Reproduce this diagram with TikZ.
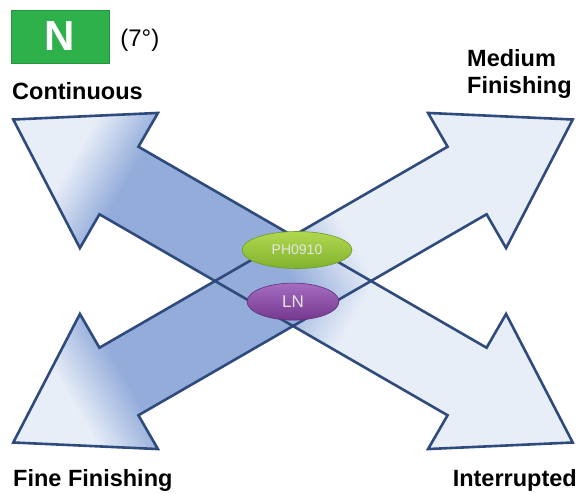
\documentclass[tikz,border=0pt]{standalone}
\usepackage{fontspec}
\newfontfamily\labelfont{Liberation Sans}
\usetikzlibrary{positioning, shapes.geometric}

\definecolor{arrdark}{HTML}{93ACDA}
\definecolor{arrlite}{HTML}{E8EEF8}
\definecolor{arrline}{HTML}{2F4A7C}
\definecolor{ngreen}{HTML}{2EB04B}
\definecolor{ngreenedge}{HTML}{24963D}
\definecolor{limetop}{HTML}{B2D850}
\definecolor{limebot}{HTML}{80B22E}
\definecolor{limeedge}{HTML}{6E9A28}
\definecolor{plumtop}{HTML}{A56CC0}
\definecolor{plumbot}{HTML}{74398F}
\definecolor{plumedge}{HTML}{60307A}

% light at the head, dark along the first half of the shaft, light again
% (the path is fitted to the 25bp--75bp part)
\pgfdeclarehorizontalshading{crossshade}{100bp}{color(0bp)=(arrlite); color(30.5bp)=(arrlite);
  color(35bp)=(arrdark); color(50bp)=(arrdark); color(55.5bp)=(arrlite); color(100bp)=(arrlite)}

% double arrow, drawn along the x axis around the origin
\newcommand{\crossarrow}{(-323,0) -- (-201,78) -- (-201,39) -- (201,39) -- (201,78) -- (323,0)
  -- (201,-78) -- (201,-39) -- (-201,-39) -- (-201,-78) -- cycle}

\begin{document}
\begin{tikzpicture}[x=1pt, y=1pt,
    every node/.style={inner sep=0pt},
    arrowbody/.style={shading=crossshade},
    arrowedge/.style={draw=arrline, line width=2.6pt, line join=miter},
    label/.style={font=\labelfont\bfseries\fontsize{23.5}{27}\selectfont, align=left},
    pill/.style={ellipse, minimum height=37pt, text=white!90!black, line width=0.6pt}]

\useasboundingbox (0,0) rectangle (580,493);

% Two crossing arrows - shading first, outlines on top
\foreach \ang in {-30,30} {
    \begin{scope}[transform canvas={shift={(293,212)}, rotate=\ang}]
        \shade[arrowbody] \crossarrow;
    \end{scope}
}
\foreach \ang in {-30,30} {
    \begin{scope}[transform canvas={shift={(293,212)}, rotate=\ang}]
        \draw[arrowedge] \crossarrow;
    \end{scope}
}

% Grade ellipses in the crossing
\node[pill, minimum width=110pt, top color=limetop, bottom color=limebot, draw=limeedge,
      font=\labelfont\fontsize{14}{14}\selectfont] (ph0910) at (297,243) {PH0910};
\node[pill, minimum width=92pt, top color=plumtop, bottom color=plumbot, draw=plumedge,
      font=\labelfont\fontsize{17}{17}\selectfont, below=14pt of ph0910, xshift=-4pt] (ln) {LN};

% Corner badge
\node[fill=ngreen, draw=ngreenedge, minimum width=98pt, minimum height=53pt, text=white,
      font=\labelfont\bfseries\fontsize{42}{42}\selectfont] (nbox) at (60,456.5) {N};
\node[right=11pt of nbox, yshift=-4pt, font=\labelfont\fontsize{24}{24}\selectfont] (angle) {(7°)};

% Direction labels
\node[label, anchor=base west] (cont) at (12,393) {Continuous};
\node[label, anchor=north west] (medfin) at (467,444) {Medium\\Finishing};
\node[label, anchor=base west] (finefin) at (13,7) {Fine Finishing};
\node[label, anchor=base east] (interr) at (577,7) {Interrupted};
\end{tikzpicture}
\end{document}
